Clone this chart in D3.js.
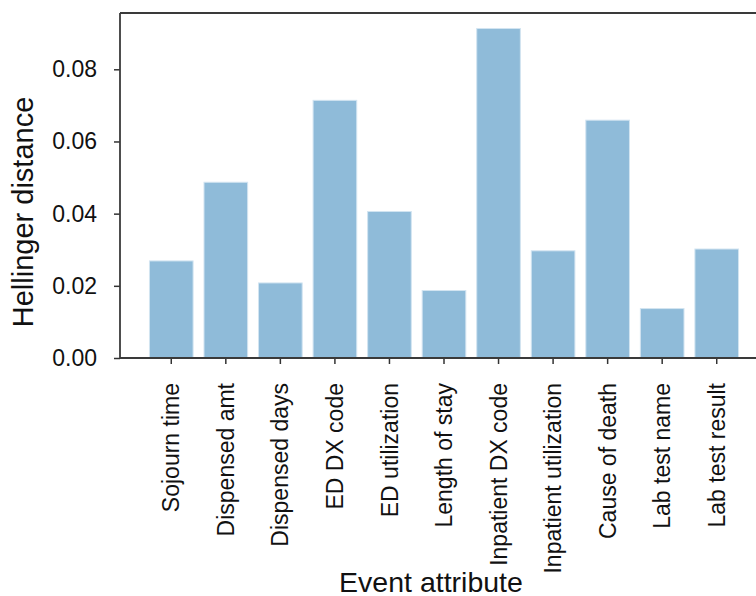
<!DOCTYPE html>
<html>
<head>
<meta charset="utf-8">
<script src="https://cdn.jsdelivr.net/npm/d3@7"></script>
<style>
  html, body { margin: 0; padding: 0; background: #fff; }
  svg { display: block; font-family: "Liberation Sans", Arial, Helvetica, sans-serif; }
</style>
</head>
<body>
<svg id="chart" width="756" height="596"></svg>
<script>
// Hellinger distance per event attribute
const categories = [
  "Sojourn time", "Dispensed amt", "Dispensed days", "ED DX code",
  "ED utilization", "Length of stay", "Inpatient DX code",
  "Inpatient utilization", "Cause of death", "Lab test name", "Lab test result"
];
const distances = [0.0269, 0.0487, 0.0208, 0.0714, 0.0406, 0.0187, 0.0913, 0.0297, 0.0659, 0.0137, 0.0302];
const yTicks = [0.00, 0.02, 0.04, 0.06, 0.08];

const svg = d3.select("#chart");
const W = 756, H = 596;
const plotLeft = 120, plotRight = 768, plotTop = 13, plotBottom = 358;

const x = d3.scaleBand()
  .domain(categories)
  .range([plotLeft, plotRight])
  .paddingInner(0.2)
  .paddingOuter(0.54);

const y = d3.scaleLinear()
  .domain([0, 0.0956])
  .range([plotBottom, plotTop]);

svg.append("defs").append("clipPath").attr("id", "page")
  .append("rect").attr("x", 0).attr("y", 0).attr("width", W).attr("height", H);

const g = svg.append("g").attr("clip-path", "url(#page)");

// bars
g.append("g").selectAll("rect")
  .data(categories.map((c, i) => ({ c, v: distances[i] })))
  .join("rect")
  .attr("x", d => x(d.c))
  .attr("y", d => y(d.v))
  .attr("width", x.bandwidth())
  .attr("height", d => y(0) - y(d.v))
  .attr("fill", "#8fbbd9")
  .attr("stroke", "#d2e4f1")
  .attr("stroke-width", 1);

// y axis
const yAxis = g.append("g")
  .attr("transform", `translate(${plotLeft},0)`)
  .call(d3.axisLeft(y).tickValues(yTicks).tickFormat(d3.format(".2f")).tickSize(6).tickPadding(17));
yAxis.select(".domain").remove();
yAxis.selectAll(".tick line").attr("stroke", "#333").attr("stroke-width", 1.5);
yAxis.selectAll(".tick text").attr("fill", "#111").style("font-size", "23px");

// x axis
const xAxis = g.append("g")
  .attr("transform", `translate(0,${plotBottom})`)
  .call(d3.axisBottom(x).tickSize(6).tickPadding(0));
xAxis.select(".domain").remove();
xAxis.selectAll(".tick line").attr("stroke", "#333").attr("stroke-width", 1.5);
xAxis.selectAll(".tick text")
  .attr("fill", "#111")
  .style("font-size", "23px")
  .attr("text-anchor", "end")
  .attr("transform", "rotate(-90)")
  .attr("x", -25)
  .attr("y", 0)
  .attr("dy", "0.35em");

// spines: left, top, bottom (right side runs past the page edge)
const spine = g.append("g").attr("stroke", "#3a3a3a").attr("stroke-width", 1.8).attr("fill", "none");
spine.append("line").attr("x1", plotLeft).attr("x2", plotLeft).attr("y1", plotTop).attr("y2", plotBottom);
spine.append("line").attr("x1", plotLeft).attr("x2", plotRight).attr("y1", plotTop).attr("y2", plotTop);
spine.append("line").attr("x1", plotLeft).attr("x2", plotRight).attr("y1", plotBottom).attr("y2", plotBottom);

// axis titles
g.append("text")
  .attr("transform", `translate(33,212) rotate(-90)`)
  .attr("text-anchor", "middle")
  .attr("fill", "#111")
  .style("font-size", "29px")
  .text("Hellinger distance");

g.append("text")
  .attr("x", 431)
  .attr("y", 592)
  .attr("text-anchor", "middle")
  .attr("fill", "#111")
  .style("font-size", "28.5px")
  .text("Event attribute");
</script>
</body>
</html>
